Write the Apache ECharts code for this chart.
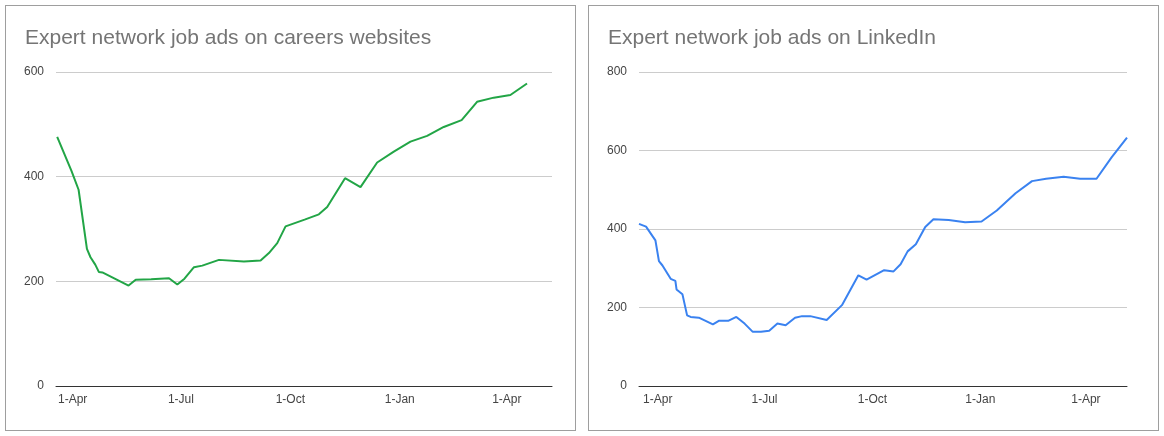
<!DOCTYPE html>
<html>
<head>
<meta charset="utf-8">
<script src="https://cdn.jsdelivr.net/npm/echarts@6/dist/echarts.min.js"></script>
<style>
body { margin: 0; background: #fff; }
.box { position: absolute; top: 5px; width: 569px; height: 424px; border: 1px solid #9e9e9e; }
</style>
</head>
<body>
<div id="leftbox" class="box" style="left:5px"></div>
<div id="rightbox" class="box" style="left:588px"></div>
<script>
// days since 1-Apr-2020
var careersDays = [-13, -1, 5, 12, 15, 19, 22, 25, 47, 53, 66, 81, 88, 94, 102, 109, 123, 144, 158, 165, 172, 179, 195, 207, 214, 229, 242, 256, 270, 284, 298, 312, 327, 340, 354, 368, 382];
var careersAds = [476, 411, 375, 262, 246, 232, 218, 217, 192, 203, 204, 206, 194, 205, 227, 230, 241, 238, 240, 254, 273, 305, 318, 328, 342, 397, 380, 427, 448, 467, 478, 495, 508, 543, 551, 556, 578];

var linkedinDays = [-16, -10, -2, 1, 4, 11, 15, 16, 21, 25, 28, 35, 47, 52, 60, 67, 74, 81, 88, 95, 102, 109, 117, 123, 130, 144, 157, 164, 171, 178, 193, 201, 207, 213, 220, 228, 235, 248, 262, 276, 289, 305, 319, 331, 346, 360, 374, 387, 400];
var linkedinAds = [413, 406, 371, 318, 307, 273, 268, 246, 234, 180, 176, 174, 157, 166, 166, 176, 159, 138, 138, 141, 159, 155, 174, 178, 178, 168, 206, 244, 282, 271, 295, 292, 310, 343, 361, 405, 425, 423, 417, 419, 447, 491, 522, 528, 533, 528, 528, 583, 633];

var base = Date.UTC(2020, 3, 1);
var DAY = 86400000;
var MONTHS = ['Jan','Feb','Mar','Apr','May','Jun','Jul','Aug','Sep','Oct','Nov','Dec'];

function toPoints(days, vals) {
    var data = [];
    for (var i = 0; i < days.length; i++) {
        data.push([base + days[i] * DAY, vals[i]]);
    }
    return data;
}

function makeOption(title, data, color, yMax, minDay, maxDay, gridRight) {
    return {
        animation: false,
        title: {
            text: title, left: 14, top: 17,
            textStyle: { fontFamily: 'Arial, "Liberation Sans"', fontSize: 21, fontWeight: 'normal', color: '#757575' }
        },
        grid: { left: 50, right: gridRight, top: 66, bottom: 44 },
        xAxis: {
            type: 'time',
            min: base + minDay * DAY,
            max: base + maxDay * DAY,
            minInterval: 28 * DAY,
            maxInterval: 31 * DAY,
            splitNumber: 14,
            axisLine: { lineStyle: { color: '#333' } },
            axisTick: { show: false },
            splitLine: { show: false },
            axisLabel: {
                color: '#444', fontFamily: 'Arial, "Liberation Sans"', fontSize: 12, hideOverlap: false,
                formatter: function (v) {
                    var d = new Date(v);
                    var m = d.getUTCMonth();
                    if (d.getUTCDate() === 1 && m % 3 === 0) return '1-' + MONTHS[m];
                    return '';
                }
            }
        },
        yAxis: {
            type: 'value', min: 0, max: yMax, interval: 200,
            axisLabel: { color: '#444', fontFamily: 'Arial, "Liberation Sans"', fontSize: 12, margin: 12 },
            splitLine: { lineStyle: { color: '#ccc' } }
        },
        series: [{
            type: 'line', data: data, showSymbol: false,
            lineStyle: { color: color, width: 2 }, itemStyle: { color: color }
        }]
    };
}

var leftChart = echarts.init(document.getElementById('leftbox'));
leftChart.setOption(makeOption('Expert network job ads on careers websites',
    toPoints(careersDays, careersAds), '#22a546', 600, -14, 403, 23));

var rightChart = echarts.init(document.getElementById('rightbox'));
rightChart.setOption(makeOption('Expert network job ads on LinkedIn',
    toPoints(linkedinDays, linkedinAds), '#3a82f0', 800, -16, 400, 31));
</script>
</body>
</html>
